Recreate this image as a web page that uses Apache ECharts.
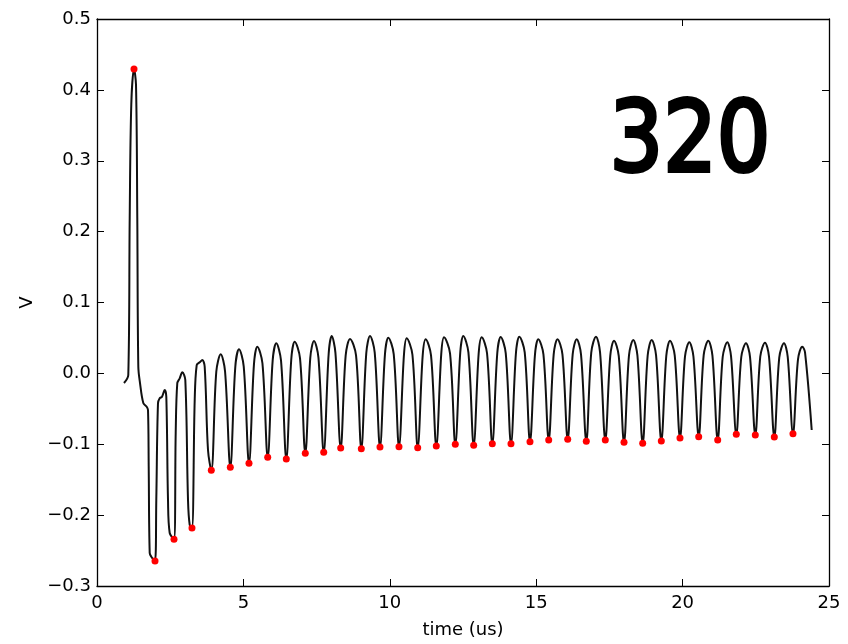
<!DOCTYPE html>
<html>
<head>
<meta charset="utf-8">
<script src="https://cdn.jsdelivr.net/npm/echarts@6/dist/echarts.min.js"></script>
<style>
html,body{margin:0;padding:0;background:#fff;}
#chart{width:848px;height:644px;}
</style>
</head>
<body>
<div id="chart"></div>
<script>
// waveform trace [time (us), V]
var wavePoints = [
[0.922,-0.0136],[1.069,-0.0023],[1.117,0.2192],[1.171,0.3791],[1.264,0.4295],[1.332,0.4073],
[1.376,0.2192],[1.411,0.0094],[1.469,-0.0136],[1.581,-0.0418],[1.697,-0.0470],[1.742,-0.0517],
[1.766,-0.1317],[1.800,-0.2534],[1.855,-0.2587],[1.981,-0.2647],[2.025,-0.1787],[2.083,-0.0422],
[2.141,-0.0352],[2.220,-0.0329],[2.312,-0.0234],[2.367,-0.0329],[2.425,-0.1787],[2.483,-0.2252],
[2.630,-0.2341],[2.688,-0.0841],[2.742,-0.0140],[2.824,-0.0070],[2.913,0.0015],[3.016,-0.0093],
[3.108,-0.1787],[3.166,-0.2139],[3.244,-0.2182],[3.337,-0.0376],[3.405,0.0118],[3.507,0.0156],
[3.596,0.0189],[3.678,0.0094],[3.791,-0.1081],[3.904,-0.1368],
[4.074,0.0023],[4.225,0.0269],[4.373,0.0030],[4.553,-0.1325],
[4.723,0.0090],[4.850,0.0340],[5.011,0.0099],[5.191,-0.1269],
[5.361,0.0130],[5.475,0.0377],[5.650,0.0143],[5.830,-0.1184],
[6.000,0.0183],[6.124,0.0424],[6.285,0.0179],[6.465,-0.1208],
[6.635,0.0199],[6.752,0.0447],[6.934,0.0211],[7.114,-0.1128],
[7.284,0.0219],[7.411,0.0457],[7.563,0.0221],[7.743,-0.1114],
[7.913,0.0281],[8.016,0.0527],[8.143,0.0290],[8.323,-0.1053],
[8.493,0.0254],[8.641,0.0485],[8.847,0.0253],[9.027,-0.1063],
[9.197,0.0288],[9.324,0.0527],[9.485,0.0292],[9.665,-0.1039],
[9.835,0.0272],[9.949,0.0503],[10.134,0.0272],[10.314,-0.1034],
[10.484,0.0266],[10.577,0.0495],[10.773,0.0263],[10.953,-0.1049],
[11.123,0.0251],[11.226,0.0481],[11.408,0.0255],[11.588,-0.1025],
[11.758,0.0279],[11.851,0.0509],[12.057,0.0282],[12.237,-0.1001],
[12.407,0.0298],[12.510,0.0527],[12.685,0.0296],[12.865,-0.1015],
[13.035,0.0280],[13.139,0.0509],[13.321,0.0284],[13.501,-0.0992],
[13.671,0.0287],[13.788,0.0513],[13.959,0.0287],[14.139,-0.0992],
[14.309,0.0291],[14.423,0.0518],[14.608,0.0296],[14.788,-0.0964],
[14.958,0.0264],[15.072,0.0481],[15.247,0.0268],[15.427,-0.0940],
[15.597,0.0268],[15.727,0.0481],[15.896,0.0269],[16.076,-0.0930],
[16.246,0.0269],[16.383,0.0481],[16.531,0.0265],[16.711,-0.0958],
[16.881,0.0297],[17.042,0.0518],[17.180,0.0299],[17.360,-0.0940],
[17.530,0.0251],[17.657,0.0461],[17.819,0.0246],[17.999,-0.0972],
[18.169,0.0255],[18.316,0.0471],[18.457,0.0252],[18.637,-0.0987],
[18.807,0.0252],[18.945,0.0471],[19.093,0.0257],[19.273,-0.0954],
[19.443,0.0249],[19.570,0.0461],[19.731,0.0255],[19.911,-0.0912],
[20.081,0.0235],[20.229,0.0438],[20.370,0.0238],[20.550,-0.0893],
[20.720,0.0258],[20.878,0.0461],[21.019,0.0251],[21.199,-0.0940],
[21.369,0.0231],[21.527,0.0438],[21.654,0.0243],[21.834,-0.0860],
[22.004,0.0231],[22.165,0.0424],[22.303,0.0230],[22.483,-0.0869],
[22.653,0.0238],[22.814,0.0433],[22.952,0.0233],[23.132,-0.0898],
[23.302,0.0226],[23.463,0.0424],[23.590,0.0233],[23.770,-0.0851],
[23.940,0.0193],[24.088,0.0377],[24.180,0.0300],[24.409,-0.0799]
];

// red markers: detected minima
var minT = [1.981,2.630,3.244,3.904,4.553,5.191,5.830,6.465,7.114,7.743,8.323,9.027,9.665,10.314,10.953,11.588,12.237,12.865,13.501,14.139,14.788,15.427,16.076,16.711,17.360,17.999,18.637,19.273,19.911,20.550,21.199,21.834,22.483,23.132,23.770];
var minV = [-0.2647,-0.2341,-0.2182,-0.1368,-0.1325,-0.1269,-0.1184,-0.1208,-0.1128,-0.1114,-0.1053,-0.1063,-0.1039,-0.1034,-0.1049,-0.1025,-0.1001,-0.1015,-0.0992,-0.0992,-0.0964,-0.0940,-0.0930,-0.0958,-0.0940,-0.0972,-0.0987,-0.0954,-0.0912,-0.0893,-0.0940,-0.0860,-0.0869,-0.0898,-0.0851];
// red marker: detected maximum
var peakT = [1.264];
var peakV = [0.4295];

var xTicks = [0, 5, 10, 15, 20, 25];
var yTicks = [-0.3, -0.2, -0.1, 0.0, 0.1, 0.2, 0.3, 0.4, 0.5];
var bigLabel = '320';

function fmtY(v) {
  var s = Math.abs(v).toFixed(1);
  return (v < -1e-9 ? '\u2212' : '') + s;
}

var FONT = 'DejaVu Sans';
var axisLineStyle = { show: true, onZero: false, lineStyle: { color: '#000', width: 1.3 } };
var tickStyle = { show: true, inside: true, length: 7, lineStyle: { color: '#000', width: 1 } };

var chart = echarts.init(document.getElementById('chart'), null, { renderer: 'canvas' });

var markers = minT.map(function (t, i) { return [t, minV[i]]; })
  .concat(peakT.map(function (t, i) { return [t, peakV[i]]; }));

chart.setOption({
  animation: false,
  backgroundColor: '#fff',
  grid: { left: 97, right: 19, top: 19, bottom: 58, containLabel: false },
  xAxis: [
    {
      type: 'value', position: 'bottom',
      min: xTicks[0], max: xTicks[xTicks.length - 1], interval: xTicks[1] - xTicks[0],
      name: 'time (us)', nameLocation: 'middle', nameGap: 35,
      nameTextStyle: { fontFamily: FONT, fontSize: 18, color: '#000' },
      axisLine: axisLineStyle, axisTick: tickStyle, splitLine: { show: false },
      axisLabel: { fontFamily: FONT, fontSize: 18, color: '#000', margin: 8 }
    },
    {
      type: 'value', position: 'top',
      min: xTicks[0], max: xTicks[xTicks.length - 1], interval: xTicks[1] - xTicks[0],
      axisLine: axisLineStyle, axisTick: tickStyle, splitLine: { show: false },
      axisLabel: { show: false }
    }
  ],
  yAxis: [
    {
      type: 'value', position: 'left',
      min: yTicks[0], max: yTicks[yTicks.length - 1], interval: 0.1,
      name: 'V', nameLocation: 'middle', nameGap: 52,
      nameTextStyle: { fontFamily: FONT, fontSize: 18, color: '#000' },
      axisLine: axisLineStyle, axisTick: tickStyle, splitLine: { show: false },
      axisLabel: { fontFamily: FONT, fontSize: 18, color: '#000', margin: 6, formatter: fmtY }
    },
    {
      type: 'value', position: 'right',
      min: yTicks[0], max: yTicks[yTicks.length - 1], interval: 0.1,
      axisLine: axisLineStyle, axisTick: tickStyle, splitLine: { show: false },
      axisLabel: { show: false }
    }
  ],
  series: [
    {
      type: 'line', xAxisIndex: 0, yAxisIndex: 0,
      data: wavePoints, showSymbol: false, smooth: 0.35,
      lineStyle: { color: '#111', width: 2 }, z: 2
    },
    {
      type: 'scatter', xAxisIndex: 0, yAxisIndex: 0,
      data: markers, symbol: 'circle', symbolSize: 7,
      itemStyle: { color: '#ff0000', opacity: 1 }, z: 3
    }
  ],
  graphic: [
    {
      type: 'text', x: 690, y: 145.5, scaleX: 0.86, z: 10,
      style: {
        text: bigLabel, fill: '#000', stroke: '#000', lineWidth: 4,
        fontFamily: 'DejaVu Sans', fontWeight: 'normal', fontSize: 98,
        align: 'center', verticalAlign: 'middle'
      }
    }
  ]
});
</script>
</body>
</html>
